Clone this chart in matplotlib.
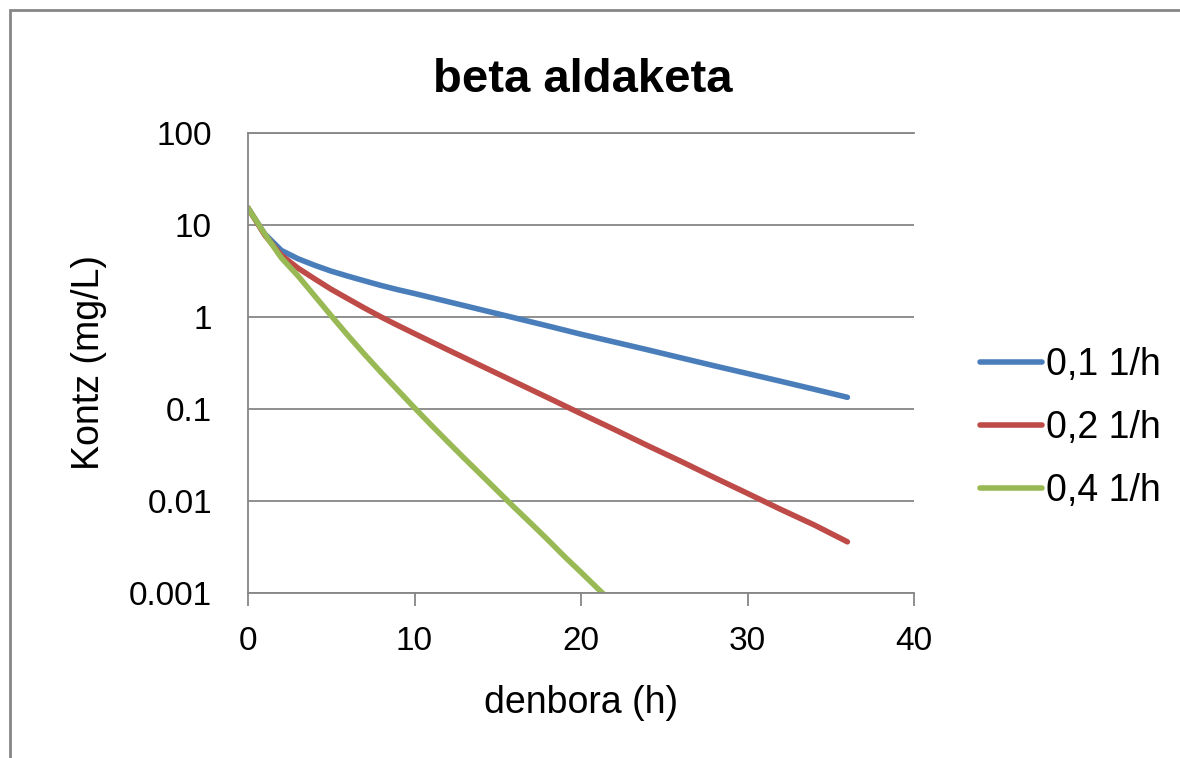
import matplotlib
matplotlib.use('Agg')
import matplotlib.pyplot as plt
from matplotlib.patches import Rectangle
from matplotlib.ticker import FixedLocator, FixedFormatter, NullLocator

plt.rcParams['font.family'] = ['Liberation Sans', 'DejaVu Sans']

# denbora (h) eta kontzentrazioak, irudian irakurrita
denbora = [0, 1, 2, 3, 4, 5, 6, 7, 8, 9, 10, 12, 14, 16, 18, 20, 22, 24, 26, 28, 30, 32, 34, 36]
beta_01 = [15.3, 8.0, 5.3, 4.3, 3.65, 3.15, 2.78, 2.47, 2.2, 1.98, 1.8, 1.47, 1.2, 0.98,
           0.80, 0.65, 0.535, 0.44, 0.36, 0.295, 0.243, 0.20, 0.164, 0.134]
beta_02 = [15.3, 7.8, 4.7, 3.4, 2.6, 2.0, 1.58, 1.25, 1.0, 0.81, 0.66, 0.44, 0.295, 0.198,
           0.133, 0.089, 0.06, 0.04, 0.027, 0.018, 0.0121, 0.0081, 0.0055, 0.0036]
denbora_04 = [0, 1, 2, 3, 4, 5, 6, 7, 8, 9, 10, 11, 12, 13, 14, 15, 16, 17, 18, 19, 20, 21, 22]
beta_04 = [15.3, 8.0, 4.4, 2.8, 1.70, 1.03, 0.63, 0.393, 0.249, 0.16, 0.103, 0.067, 0.044,
           0.029, 0.0193, 0.0128, 0.0085, 0.0057, 0.0038, 0.0025, 0.00168, 0.00112, 0.00075]

izenak = ['0,1 1/h', '0,2 1/h', '0,4 1/h']
koloreak = ['#4A7EBB', '#BE4B48', '#98B954']

ytick_vals = [0.001, 0.01, 0.1, 1, 10, 100]
ytick_labels = ['0.001', '0.01', '0.1', '1', '10', '100']
xtick_vals = [0, 10, 20, 30, 40]

fig = plt.figure(figsize=(11.8, 7.58), dpi=100)
ax = fig.add_axes([248/1180, 1 - 593/758, (914-248)/1180, (593-133)/758])

ax.plot(denbora, beta_01, color=koloreak[0], lw=4, label=izenak[0], solid_capstyle='round')
ax.plot(denbora, beta_02, color=koloreak[1], lw=4, label=izenak[1], solid_capstyle='round')
ax.plot(denbora_04, beta_04, color=koloreak[2], lw=4, label=izenak[2], solid_capstyle='round')

ax.set_yscale('log')
ax.set_ylim(0.001, 100)
ax.set_xlim(0, 40)
ax.yaxis.set_major_locator(FixedLocator(ytick_vals))
ax.yaxis.set_major_formatter(FixedFormatter(ytick_labels))
ax.yaxis.set_minor_locator(NullLocator())
ax.set_xticks(xtick_vals)

gray = '#868686'
ax.grid(axis='y', color=gray, lw=1.3)
ax.set_axisbelow(True)
ax.spines['right'].set_visible(False)
for s in ['left', 'bottom', 'top']:
    ax.spines[s].set_color(gray)
    ax.spines[s].set_linewidth(1.3)
ax.tick_params(axis='y', length=0, pad=26, labelsize=24)
ax.tick_params(axis='x', length=9, width=1.3, color=gray, pad=15, labelsize=24)

ax.set_xlabel('denbora (h)', fontsize=27, labelpad=20)
ax.set_ylabel('Kontz (mg/L)', fontsize=27, labelpad=16)
fig.text(583/1180, 1 - 80/758, 'beta aldaketa', fontsize=34, fontweight='bold',
         ha='center', va='center')

leg = ax.legend(loc='center left', bbox_to_anchor=(980/1180, 1 - 428/758),
                bbox_transform=fig.transFigure, frameon=False, fontsize=27,
                borderaxespad=0, borderpad=0,
                handlelength=1.65, handletextpad=0.12, labelspacing=0.72)

fig.add_artist(Rectangle((10/1180, -0.1), 1.2, 1 - 10/758 + 0.1, transform=fig.transFigure,
                         fill=False, edgecolor=gray, lw=2))

fig.savefig('out.png', dpi=100)
